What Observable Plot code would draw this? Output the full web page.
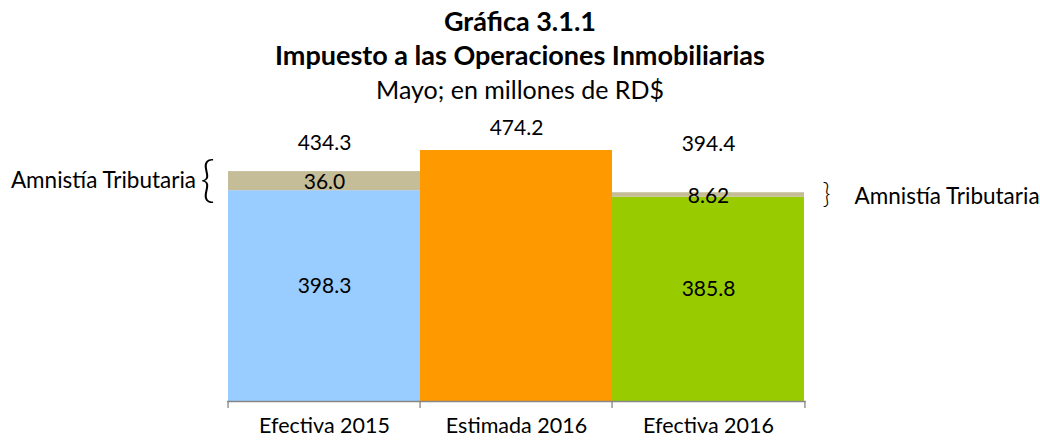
<!DOCTYPE html>
<html>
<head>
<meta charset="utf-8">
<script src="https://cdn.jsdelivr.net/npm/d3@7"></script>
<script src="https://cdn.jsdelivr.net/npm/@observablehq/plot@0.6"></script>
<style>
  html, body { margin: 0; padding: 0; background: #fff; }
  body { width: 1040px; height: 440px; overflow: hidden; font-family: Lato, "Noto Sans", sans-serif; color: #000; }
  #titles { height: 105px; text-align: center; }
  #titles .t { font-weight: bold; font-size: 27px; line-height: 34px; }
  #titles .s { font-size: 25px; line-height: 34px; }
  #titles .first { padding-top: 4px; }
</style>
</head>
<body>
<div id="titles">
  <div class="t first">Gráfica 3.1.1</div>
  <div class="t">Impuesto a las Operaciones Inmobiliarias</div>
  <div class="s">Mayo; en millones de RD$</div>
</div>
<div id="chart"></div>
<script>
// ---- data ----
const categories = ["Efectiva 2015", "Estimada 2016", "Efectiva 2016"];
const baseValues = [398.3, 474.2, 385.8];
const amnistiaValues = [36.0, null, 8.62];
const totals = [434.3, 474.2, 394.4];
const amnistiaName = "Amnistía Tributaria";

const seriesNames = [...categories, amnistiaName];
const seriesColors = ["#99CCFF", "#FF9900", "#99CC00", "#C4BD97"];

const rows = [];
categories.forEach((c, i) => {
  rows.push({cat: c, serie: c, value: baseValues[i]});
  if (amnistiaValues[i] != null) rows.push({cat: c, serie: amnistiaName, value: amnistiaValues[i]});
});
const totalRows = categories.map((c, i) => ({cat: c, total: totals[i]}));
const amnistiaRows = categories
  .map((c, i) => ({cat: c, mid: baseValues[i] + (amnistiaValues[i] ?? 0) / 2, has: amnistiaValues[i] != null}))
  .filter(d => d.has);

const W = 1040, H = 335;
const mL = 227, mR = 234.3;
const bw = (W - mL - mR) / categories.length;
const axisColor = "#868686";

const fmtBase = v => v.toFixed(1);
const fmtAm = v => v.toPrecision(3);

const plot = Plot.plot({
  width: W,
  height: H,
  marginLeft: mL,
  marginRight: mR,
  marginTop: 45,
  marginBottom: 39,
  style: {fontFamily: "Lato, 'Noto Sans', sans-serif", fontSize: "21px", color: "#000", background: "transparent", overflow: "visible"},
  x: {domain: categories, padding: 0, axis: null, label: null},
  y: {domain: [0, 474.2], axis: null},
  color: {domain: seriesNames, range: seriesColors},
  marks: [
    Plot.barY(rows, {x: "cat", y: "value", fill: "serie"}),
    // labels inside base segments
    Plot.text(rows, Plot.stackY({x: "cat", y: "value",
      text: d => d.serie !== amnistiaName && d.serie !== "Estimada 2016" ? fmtBase(d.value) : null,
      dy: -10, fill: "#000"})),
    // labels inside amnistía segments
    Plot.text(rows, Plot.stackY({x: "cat", y: "value",
      text: d => d.serie === amnistiaName ? fmtAm(d.value) : null,
      dy: 1.5, fill: "#000"})),
    // totals above bars
    Plot.text(totalRows, {filter: d => d.cat === "Efectiva 2015", x: "cat", y: "total", text: d => fmtBase(d.total), dy: -28.5, fill: "#000"}),
    Plot.text(totalRows, {filter: d => d.cat === "Estimada 2016", x: "cat", y: "total", text: d => fmtBase(d.total), dy: -22, fill: "#000"}),
    Plot.text(totalRows, {filter: d => d.cat === "Efectiva 2016", x: "cat", y: "total", text: d => fmtBase(d.total), dy: -48.5, fill: "#000"}),
    // Amnistía annotations with braces
    Plot.text(amnistiaRows, {filter: d => d.cat === "Efectiva 2015", x: "cat", y: "mid", text: () => amnistiaName, textAnchor: "end", dx: -128.5, dy: 0, fontSize: 22.5, fill: "#000"}),
    Plot.text(amnistiaRows, {filter: d => d.cat === "Efectiva 2015", x: "cat", y: "mid", text: () => "{", dx: -117, dy: -1, fontSize: 50, fontWeight: 300, fill: "#000"}),
    Plot.text(amnistiaRows, {filter: d => d.cat === "Efectiva 2016", x: "cat", y: "mid", text: () => amnistiaName, textAnchor: "start", dx: 146, dy: 2, fontSize: 22.5, fill: "#000"}),
    Plot.text(amnistiaRows, {filter: d => d.cat === "Efectiva 2016", x: "cat", y: "mid", text: () => "}", dx: 118, dy: -1, fontSize: 27, fontWeight: 300, fill: "#000"}),
    // axis
    Plot.ruleY([0], {stroke: axisColor, strokeWidth: 1.3}),
    Plot.axisX({tickSize: 7, tickFormat: () => "", dx: -bw / 2, stroke: axisColor, strokeWidth: 1.3, label: null}),
    Plot.axisX(["Efectiva 2016"], {tickSize: 7, tickFormat: () => "", dx: bw / 2, stroke: axisColor, strokeWidth: 1.3, label: null}),
    Plot.axisX({tickSize: 0, tickPadding: 16, fontSize: 21.5, fill: "#000", label: null})
  ]
});
document.getElementById("chart").appendChild(plot);
</script>
</body>
</html>
